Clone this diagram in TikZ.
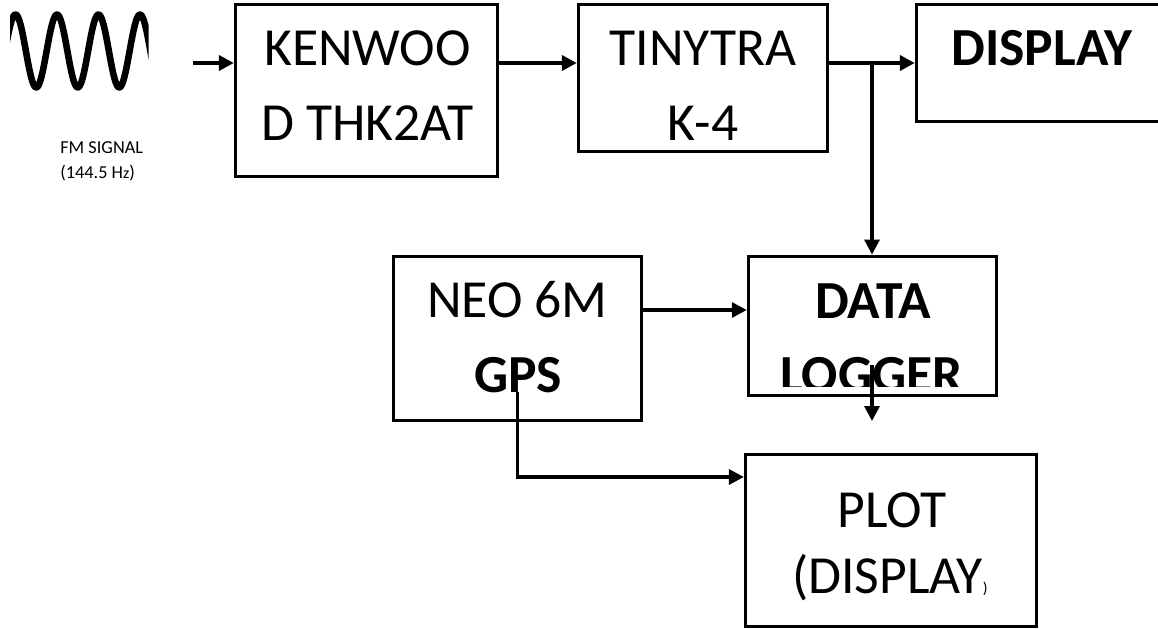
\documentclass[tikz,border=0pt]{standalone}
\usepackage{fontspec}
\setmainfont{Carlito}
\usetikzlibrary{arrows.meta}
\tikzset{
  blockbox/.style={draw=black, line width=3.4*0.5669pt, inner sep=0pt},
  blocktext/.style={inner sep=0pt, anchor=base, font=\fontsize{30.5}{31}\selectfont},
  sigline/.style={line width=2.4pt, -{Triangle[length=8.5pt,width=8.5pt]}},
  thinline/.style={line width=1.85pt, -{Triangle[length=8.5pt,width=8.5pt]}}
}
\begin{document}
\begin{tikzpicture}[x=0.02cm,y=-0.02cm]
  \useasboundingbox (0,0) rectangle (1158,628);

  % Signal wave
  \begin{scope}
    \clip (10,0) rectangle (148.5,100);
    \draw[line width=6.6*0.5669pt, line join=round] plot[domain=6:152, samples=146, smooth]
      (\x, {51-36.5*cos(8.675*(\x-57))});
  \end{scope}
  \node[anchor=base west, inner sep=0pt, align=left, font=\fontsize{10.4}{14.2}\selectfont] (fmlabel) at (60,178)
    {FM SIGNAL\\(144.5 H{\fontsize{9}{9}\selectfont z})};

  % Blocks
  \node[blockbox, minimum width=263*0.5669pt, minimum height=173*0.5669pt] (kenwood) at (366.5,90.5) {};
  \node[blockbox, minimum width=250*0.5669pt, minimum height=148*0.5669pt] (tinytrak) at (703,78) {};
  \node[blockbox, minimum width=256*0.5669pt, minimum height=118*0.5669pt] (display) at (1044,63) {};
  \node[blockbox, minimum width=249*0.5669pt, minimum height=165*0.5669pt] (neo) at (517.5,338.5) {};
  \node[blockbox, minimum width=249*0.5669pt, minimum height=140*0.5669pt] (logger) at (872.5,326) {};
  \node[blockbox, minimum width=292*0.5669pt, minimum height=173*0.5669pt] (plotbox) at (891,540.5) {};

  % Block texts
  \node[blocktext] (kenwoodA) at (367.5,66) {KENWOO};
  \node[blocktext] (kenwoodB) at (367.5,141) {D THK2AT};
  \node[blocktext] (tinytrakA) at (703,66) {TINYTRA};
  \node[blocktext] (tinytrakB) at (703,141) {K-4};
  \node[blocktext] (displayA) at (1042,66) {\textbf{DISPLAY}};
  \node[blocktext] (neoA) at (517.5,317) {NEO 6M};
  \node[blocktext] (neoB) at (518,392) {\textbf{GPS}};
  \node[blocktext] (loggerA) at (873,318) {\textbf{DATA}};
  \begin{scope}
    \clip (760,300) rectangle (985,386);
    \node[blocktext] (loggerB) at (871.5,392) {\textbf{LOGGER}};
  \end{scope}
  \node[blocktext] (plotA) at (892,527) {PLOT};
  \node[blocktext] (plotB) at (890,593) {(DISPLAY{\fontsize{9}{9}\selectfont)}};

  % Free ends and bends
  \coordinate (sigin) at (193,63);
  \coordinate (tap) at (872,63);
  \coordinate (gpsout) at (517.5,392);
  \coordinate (gpsbend) at (517.5,477);
  \coordinate (neoout) at (642,310);
  \coordinate (logout) at (872,365);
  \coordinate (logend) at (872,421);

  % Connectors
  \draw[sigline] (sigin) -- (kenwood.west |- sigin);
  \draw[sigline] (kenwood.east |- sigin) -- (tinytrak.west |- sigin);
  \draw[sigline] (tinytrak.east |- sigin) -- (display.west |- sigin);
  \draw[thinline] (tap) -- (logger.north -| tap);
  \draw[thinline] (neoout) -- (logger.west |- neoout);
  \draw[thinline] (logout) -- (logend);
  \draw[thinline] (gpsout) -- (gpsbend) -- (plotbox.west |- gpsbend);
\end{tikzpicture}
\end{document}
